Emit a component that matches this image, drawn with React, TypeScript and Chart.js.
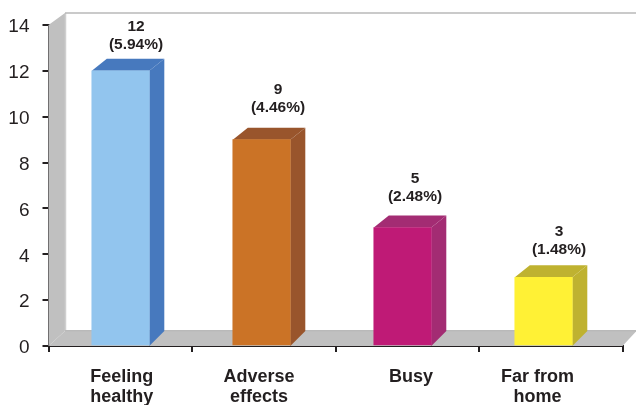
import React, { useEffect, useRef } from "react";
import { Chart, registerables } from "chart.js";

Chart.register(...registerables);

const categories: string[][] = [["Feeling", "healthy"], ["Adverse", "effects"], ["Busy"], ["Far from", "home"]];
const tickCategories = ["Feeling healthy", "Adverse effects", "Busy", "Far from home"];
const counts = [12, 9, 5, 3];
// Bar heights as drawn in the picture (the Busy bar stands a little above its printed count)
const barHeights = [12, 9, 5.17, 3];
const percents = ["(5.94%)", "(4.46%)", "(2.48%)", "(1.48%)"];
const barSlots = [0, 1, 2, 3];
const yTicks = [0, 2, 4, 6, 8, 10, 12, 14];

const frontColors = ["#92C5EE", "#CB7326", "#BF1A76", "#FFF135"];
const sideColors = ["#4779BE", "#99552C", "#A32C73", "#BFB230"];

// Label placement quirks of the reference
const labelSlots = [0.009, 0.982, 2.06, 2.957];
const valueNudgeX = [15.5, 16.5, 12.5, 15.5];
const valueNudgeY = [25.7, 32, 30.6, 27.7];

const INK = "#231F20";
const WALL = "#C0C0C0";
const EDGE = "#CFCFCF";
const DX = 15;

const decor = {
  id: "decor",
  beforeDatasetsDraw(chart: any) {
    const { ctx, chartArea: a } = chart;
    const { left: l, right: r, top: t, bottom: b } = a;
    ctx.save();
    ctx.fillStyle = WALL;
    // left wall
    ctx.beginPath();
    ctx.moveTo(l, t);
    ctx.lineTo(l + 16.5, t - 12);
    ctx.lineTo(l + 16.5, b - 15);
    ctx.lineTo(l, b);
    ctx.closePath();
    ctx.fill();
    // floor
    ctx.beginPath();
    ctx.moveTo(l, b);
    ctx.lineTo(l + 16.5, b - 15);
    ctx.lineTo(r + 14, b - 15);
    ctx.lineTo(r, b);
    ctx.closePath();
    ctx.fill();
    // back-wall edge
    ctx.strokeStyle = EDGE;
    ctx.lineWidth = 1.5;
    ctx.beginPath();
    ctx.moveTo(l + 17, b - 15);
    ctx.lineTo(l + 17, t - 12);
    ctx.stroke();
    ctx.strokeStyle = "#B9B9B9";
    ctx.beginPath();
    ctx.moveTo(l + 16.5, t - 12);
    ctx.lineTo(636, t - 12);
    ctx.moveTo(l + 16.5, b - 15.3);
    ctx.lineTo(r + 14, b - 15.3);
    ctx.stroke();
    // bar sides
    const meta = chart.getDatasetMeta(0);
    meta.data.forEach((bar: any, i: number) => {
      const p = bar.getProps(["x", "y", "base", "width"], true);
      const x0 = p.x - p.width / 2;
      const x1 = p.x + p.width / 2;
      ctx.fillStyle = sideColors[i];
      ctx.beginPath();
      ctx.moveTo(x1, p.y);
      ctx.lineTo(x1 + DX, p.y - 12);
      ctx.lineTo(x1 + DX, b - 15);
      ctx.lineTo(x1, b);
      ctx.closePath();
      ctx.fill();
      ctx.beginPath();
      ctx.moveTo(x0, p.y);
      ctx.lineTo(x0 + DX, p.y - 12);
      ctx.lineTo(x1 + DX, p.y - 12);
      ctx.lineTo(x1, p.y);
      ctx.closePath();
      ctx.fill();
    });
    ctx.restore();
  },
  afterDatasetsDraw(chart: any) {
    const { ctx } = chart;
    const meta = chart.getDatasetMeta(0);
    ctx.save();
    ctx.fillStyle = INK;
    ctx.font = "bold 15.5px 'Liberation Sans'";
    ctx.textAlign = "center";
    ctx.textBaseline = "middle";
    meta.data.forEach((bar: any, i: number) => {
      const p = bar.getProps(["x", "y"], true);
      const x = p.x + valueNudgeX[i];
      const y = p.y - valueNudgeY[i];
      ctx.fillText(String(counts[i]), x, y - 18);
      ctx.fillText(percents[i], x, y);
    });
    ctx.restore();
  },
};

export default function App() {
  const ref = useRef<HTMLCanvasElement>(null);
  useEffect(() => {
    const chart = new Chart(ref.current as HTMLCanvasElement, {
      type: "bar",
      data: {
        labels: tickCategories,
        datasets: [
          {
            data: barSlots.map((s, i) => ({ x: s, y: barHeights[i] })),
            backgroundColor: frontColors,
            borderWidth: 0,
            barThickness: 57.5,
            xAxisID: "x",
            yAxisID: "y",
          },
        ],
      } as any,
      options: {
        animation: false,
        responsive: false,
        devicePixelRatio: 1,
        layout: { padding: { top: 25, right: 13.5, left: 0, bottom: 0 } },
        plugins: { legend: { display: false }, tooltip: { enabled: false } },
        scales: {
          y: {
            min: 0,
            max: 14,
            afterFit: (s: any) => { s.width = 48.5; },
            afterBuildTicks: (s: any) => { s.ticks = yTicks.map((v) => ({ value: v })); },
            border: { color: INK, width: 2 },
            grid: { drawOnChartArea: false, color: INK, lineWidth: 2, tickLength: 6 },
            ticks: {
              color: INK,
              padding: 13,
              labelOffset: 2,
              font: { family: "'Liberation Sans'", size: 19 },
            },
          },
          cat: {
            type: "category",
            position: "bottom",
            weight: 0,
            labels: tickCategories,
            offset: true,
            afterFit: (s: any) => { s.height = 7; },
            border: { color: INK, width: 2 },
            grid: { offset: true, drawOnChartArea: false, color: INK, lineWidth: 2, tickLength: 6 },
            ticks: { display: false },
          },
          x: {
            type: "linear",
            position: "bottom",
            weight: 1,
            offset: false,
            min: -0.511,
            max: 3.56,
            bounds: "data",
            afterFit: (s: any) => { s.height = 52; },
            afterBuildTicks: (s: any) => { s.ticks = labelSlots.map((v) => ({ value: v })); },
            border: { display: false },
            grid: { display: false, drawTicks: false, offset: false },
            ticks: {
              autoSkip: false,
              maxRotation: 0,
              minRotation: 0,
              padding: 14,
              color: INK,
              font: { family: "'Liberation Sans'", size: 18, weight: "bold", lineHeight: 1.11 },
              callback: (_v: any, i: number) => categories[i],
            },
          },
        },
      } as any,
      plugins: [decor],
    });
    return () => chart.destroy();
  }, []);
  return (
    <canvas
      ref={ref}
      width={636}
      height={405}
      style={{ position: "fixed", left: 0, top: 0, width: 636, height: 405, display: "block" }}
    />
  );
}
